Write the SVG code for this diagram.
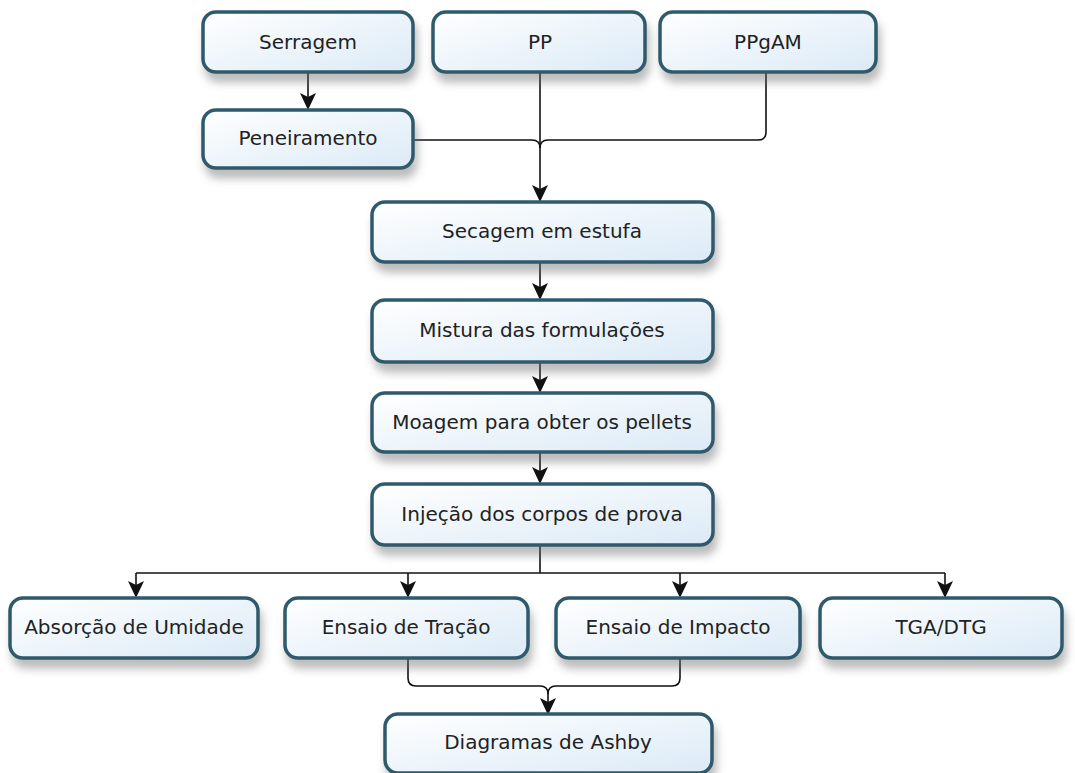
<svg xmlns="http://www.w3.org/2000/svg" width="1075" height="773" viewBox="0 0 1075 773">
<defs>
<linearGradient id="g" x1="0" y1="0" x2="1" y2="1">
<stop offset="0" stop-color="#ffffff"/>
<stop offset="1" stop-color="#dbeaf6"/>
</linearGradient>
<filter id="sh" x="-10%" y="-20%" width="125%" height="160%">
<feDropShadow dx="3" dy="9" stdDeviation="4" flood-color="#6a6a6a" flood-opacity="0.45"/>
</filter>
<marker id="ah" markerWidth="18" markerHeight="18" refX="15" refY="9" orient="auto" markerUnits="userSpaceOnUse">
<path d="M0,1 L17,9 L0,17 L4,9 Z" fill="#111"/>
</marker>
</defs>
<style>
.box rect{fill:url(#g);stroke:#2e5a6c;stroke-width:3.5;filter:url(#sh)}
.box text{font-family:"DejaVu Sans",sans-serif;font-size:20px;fill:#222;text-anchor:middle;dominant-baseline:central}
.c path{fill:none;stroke:#111;stroke-width:1.6}
</style>
<rect width="1075" height="773" fill="#fff"/>
<g class="c">
<path d="M308,72 V108" marker-end="url(#ah)"/>
<path d="M540,72 V200" marker-end="url(#ah)"/>
<path d="M413,140 H532 Q540,140 540,148"/>
<path d="M766,72 V132 Q766,140 758,140 H548 Q540,140 540,148"/>
<path d="M540,262 V298" marker-end="url(#ah)"/>
<path d="M540,362 V391" marker-end="url(#ah)"/>
<path d="M540,452 V482" marker-end="url(#ah)"/>
<path d="M540,545 V573"/>
<path d="M136,573 H945"/>
<path d="M136,573 V596" marker-end="url(#ah)"/>
<path d="M408,573 V596" marker-end="url(#ah)"/>
<path d="M680,573 V596" marker-end="url(#ah)"/>
<path d="M945,573 V596" marker-end="url(#ah)"/>
<path d="M408,658 V678 Q408,686 416,686 H540 Q548,686 548,694 V713" marker-end="url(#ah)"/>
<path d="M680,658 V678 Q680,686 672,686 H556 Q548,686 548,694"/>
</g>
<g id="serragem" class="box"><rect x="203" y="12" width="210" height="60" rx="13"/><text x="308" y="42">Serragem</text></g>
<g id="pp" class="box"><rect x="433" y="12" width="212" height="60" rx="13"/><text x="540" y="42">PP</text></g>
<g id="ppgam" class="box"><rect x="660" y="12" width="216" height="60" rx="13"/><text x="768" y="42">PPgAM</text></g>
<g id="peneiramento" class="box"><rect x="203" y="110" width="210" height="58" rx="13"/><text x="308" y="138">Peneiramento</text></g>
<g id="secagem" class="box"><rect x="372" y="202" width="341" height="60" rx="13"/><text x="542" y="231">Secagem em estufa</text></g>
<g id="mistura" class="box"><rect x="372" y="300" width="341" height="62" rx="13"/><text x="542" y="330">Mistura das formulações</text></g>
<g id="moagem" class="box"><rect x="372" y="393" width="341" height="59" rx="13"/><text x="542" y="422">Moagem para obter os pellets</text></g>
<g id="injecao" class="box"><rect x="372" y="484" width="341" height="61" rx="13"/><text x="542" y="514">Injeção dos corpos de prova</text></g>
<g id="absorcao" class="box"><rect x="10" y="598" width="248" height="60" rx="13"/><text x="134" y="627">Absorção de Umidade</text></g>
<g id="tracao" class="box"><rect x="285" y="598" width="243" height="60" rx="13"/><text x="406" y="627">Ensaio de Tração</text></g>
<g id="impacto" class="box"><rect x="556" y="598" width="244" height="60" rx="13"/><text x="678" y="627">Ensaio de Impacto</text></g>
<g id="tga" class="box"><rect x="820" y="598" width="242" height="60" rx="13"/><text x="941" y="627">TGA/DTG</text></g>
<g id="ashby" class="box"><rect x="385" y="714" width="327" height="59" rx="13"/><text x="548" y="742">Diagramas de Ashby</text></g>
</svg>
